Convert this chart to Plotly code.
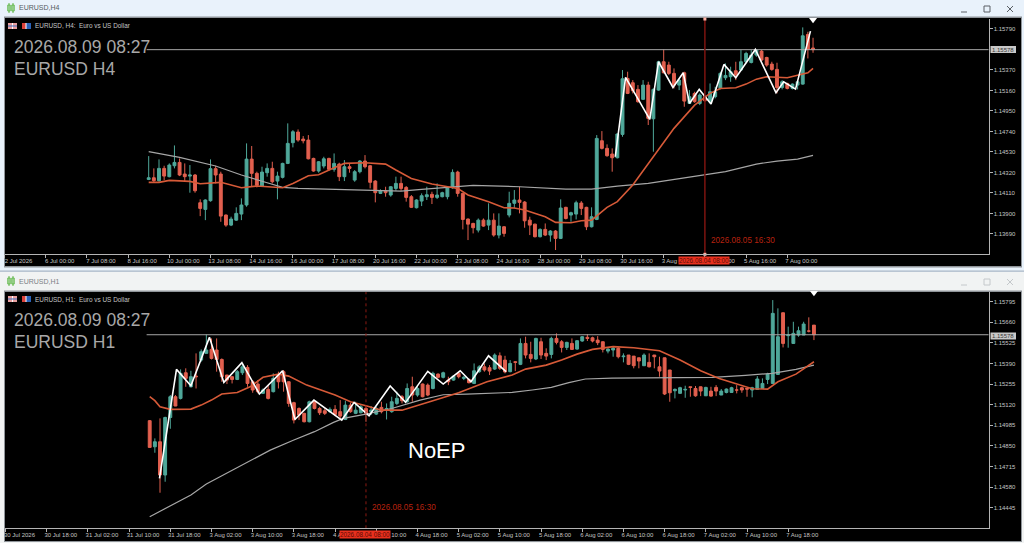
import plotly.graph_objects as go

# ---- H4 chart values ----
h4_open = [1.14249,1.14266,1.14236,1.14362,1.14277,1.14389,1.14423,1.14304,1.14283,1.14294,
           1.14010,1.13942,1.14031,1.14359,1.14304,1.13884,1.13781,1.13832,1.13894,1.13987,
           1.14457,1.14311,1.14181,1.14318,1.14362,1.14232,1.14270,1.14413,1.14625,1.14734,
           1.14662,1.14652,1.14464,1.14335,1.14386,1.14464,1.14352,1.14406,1.14277,1.14379,
           1.14242,1.14328,1.14437,1.14389,1.14232,1.14106,1.14133,1.14089,1.14157,1.14208,
           1.14167,1.14072,1.13959,1.14027,1.14072,1.14096,1.14065,1.14072,1.14072,1.14164,
           1.14324,1.14106,1.13843,1.13798,1.13730,1.13832,1.13781,1.13832,1.13679,1.13764,
           1.13884,1.14004,1.14038,1.14017,1.13832,1.13791,1.13662,1.13737,1.13679,1.13720,
           1.13645,1.13963,1.13884,1.13894,1.14007,1.13963,1.13764,1.13839,1.14645,1.14567,
           1.14509,1.14471,1.14710,1.15283,1.15239,1.15171,1.15069,1.15215,1.14870,1.15164,
           1.15454,1.15420,1.15335,1.15215,1.15341,1.15027,1.15130,1.15027,1.15096,1.15045,
           1.15096,1.15181,1.15290,1.15301,1.15362,1.15369,1.15454,1.15447,1.15522,1.15563,
           1.15498,1.15430,1.15376,1.15191,1.15232,1.15181,1.15215,1.15225,1.15734,1.15595]
h4_high = [1.14488,1.14362,1.14454,1.14389,1.14413,1.14597,1.14464,1.14413,1.14396,1.14304,
           1.14045,1.14045,1.14454,1.14389,1.14328,1.13890,1.13867,1.13963,1.14055,1.14618,
           1.14591,1.14328,1.14379,1.14413,1.14430,1.14328,1.14420,1.14823,1.14754,1.14761,
           1.14693,1.14703,1.14471,1.14437,1.14481,1.14471,1.14515,1.14420,1.14447,1.14413,
           1.14345,1.14447,1.14498,1.14396,1.14242,1.14147,1.14174,1.14181,1.14277,1.14277,
           1.14181,1.14089,1.14045,1.14106,1.14174,1.14123,1.14208,1.14123,1.14174,1.14352,
           1.14338,1.14113,1.13849,1.13805,1.13849,1.13849,1.14004,1.13901,1.13901,1.13771,
           1.14123,1.14140,1.14174,1.14027,1.13867,1.13795,1.13748,1.13798,1.13730,1.13730,
           1.14045,1.13969,1.13918,1.14031,1.14027,1.13969,1.13963,1.14703,1.14744,1.14608,
           1.14567,1.14720,1.15369,1.15352,1.15266,1.15215,1.15266,1.15249,1.15181,1.15464,
           1.15580,1.15454,1.15386,1.15283,1.15352,1.15164,1.15147,1.15130,1.15113,1.15232,
           1.15198,1.15352,1.15437,1.15403,1.15454,1.15574,1.15556,1.15574,1.15580,1.15574,
           1.15505,1.15454,1.15444,1.15266,1.15239,1.15232,1.15266,1.15806,1.15761,1.15700]
h4_low = [1.14242,1.14215,1.14225,1.14242,1.14270,1.14362,1.14283,1.14225,1.14113,1.14113,
          1.13873,1.13832,1.14021,1.14208,1.13815,1.13764,1.13771,1.13825,1.13832,1.13969,
          1.14181,1.14167,1.14174,1.14277,1.14208,1.14045,1.14259,1.14406,1.14577,1.14635,
          1.14618,1.14454,1.14328,1.14318,1.14362,1.14338,1.14328,1.14232,1.14232,1.14318,
          1.14225,1.14311,1.14362,1.14157,1.14014,1.14099,1.14072,1.14072,1.14133,1.14133,
          1.14021,1.13956,1.13952,1.13976,1.14038,1.13997,1.14048,1.14065,1.14045,1.14154,
          1.14072,1.13737,1.13628,1.13696,1.13706,1.13764,1.13730,1.13662,1.13645,1.13662,
          1.13860,1.13952,1.13901,1.13754,1.13679,1.13655,1.13655,1.13669,1.13611,1.13526,
          1.13638,1.13839,1.13815,1.13839,1.13884,1.13730,1.13757,1.13832,1.14556,1.14481,
          1.14328,1.14464,1.14686,1.15123,1.15130,1.15034,1.15062,1.14806,1.14533,1.15157,
          1.15335,1.15318,1.15181,1.15164,1.14993,1.15021,1.15034,1.15010,1.15045,1.15027,
          1.15079,1.15171,1.15266,1.15249,1.15266,1.15362,1.15437,1.15437,1.15505,1.15464,
          1.15403,1.15362,1.15130,1.15171,1.15171,1.15171,1.15171,1.15219,1.15488,1.15546]
h4_close = [1.14266,1.14236,1.14362,1.14283,1.14396,1.14423,1.14294,1.14277,1.14294,1.14133,
            1.13952,1.14038,1.14359,1.14294,1.13873,1.13781,1.13843,1.13901,1.13987,1.14457,
            1.14311,1.14188,1.14324,1.14362,1.14225,1.14283,1.14413,1.14618,1.14737,1.14652,
            1.14645,1.14460,1.14335,1.14430,1.14460,1.14352,1.14413,1.14277,1.14379,1.14362,
            1.14328,1.14437,1.14379,1.14219,1.14113,1.14133,1.14113,1.14174,1.14208,1.14157,
            1.14065,1.13963,1.14038,1.14082,1.14092,1.14065,1.14089,1.14113,1.14164,1.14321,
            1.14106,1.13839,1.13791,1.13754,1.13832,1.13771,1.13832,1.13679,1.13771,1.13696,
            1.14004,1.14038,1.14014,1.13825,1.13781,1.13662,1.13737,1.13679,1.13720,1.13645,
            1.13956,1.13849,1.13908,1.14010,1.13952,1.13764,1.13867,1.14669,1.14567,1.14492,
            1.14471,1.14714,1.15280,1.15130,1.15157,1.15045,1.15215,1.14874,1.15171,1.15454,
            1.15341,1.15335,1.15215,1.15266,1.15051,1.15096,1.15045,1.15113,1.15055,1.15147,
            1.15147,1.15335,1.15314,1.15352,1.15318,1.15454,1.15539,1.15522,1.15574,1.15471,
            1.15420,1.15376,1.15191,1.15249,1.15181,1.15225,1.15249,1.15720,1.15580,1.15578]

# moving averages and zigzag of the H4 chart, as (bar number, price)
h4_red_bar = [0,2,4,8,10,14,18,21,26,28,31,33,36,38,42,46,48,51,55,60,62,66,69,71,73,77,79,82,84,86,89,91,94,98,102,106,109,111,114,116,118,120,124,128,129]
h4_red_val = [1.14219,1.14219,1.14239,1.14229,1.14205,1.14219,1.14164,1.14181,1.14164,1.14208,1.14287,1.14297,1.14369,1.14413,1.14420,1.14406,1.14345,1.14259,1.14202,1.14157,1.14089,1.14021,1.13959,1.13956,1.13935,1.13867,1.13809,1.13805,1.13825,1.13832,1.13963,1.14021,1.14191,1.14481,1.14772,1.15010,1.15130,1.15181,1.15188,1.15225,1.15276,1.15301,1.15290,1.15341,1.15386]
h4_gray_bar = [0,6,13,18,23,26,29,36,42,49,53,59,63,72,77,81,86,91,97,102,108,112,118,122,126,129]
h4_gray_val = [1.14533,1.14475,1.14386,1.14294,1.14215,1.14167,1.14157,1.14147,1.14133,1.14130,1.14147,1.14174,1.14188,1.14174,1.14164,1.14150,1.14150,1.14181,1.14208,1.14249,1.14297,1.14328,1.14406,1.14437,1.14457,1.14495]
h4_zz_bar = [90.6,92.6,97.3,99.0,101.8,103.8,105.0,106.9,109.2,111.7,114.0,117.8,121.8,123.3,125.6,128.5]
h4_zz_val = [1.14481,1.15294,1.14864,1.15454,1.15191,1.15341,1.15027,1.15171,1.15021,1.15427,1.15290,1.15580,1.15137,1.15249,1.15174,1.15768]

# ---- H1 chart values ----
h1_open = [1.15015,1.14844,1.14877,1.14659,1.15036,1.15172,1.15161,1.15329,1.15237,1.15307,
           1.15412,1.15456,1.15482,1.15478,1.15416,1.15314,1.15303,1.15285,1.15329,1.15364,
           1.15270,1.15255,1.15194,1.15220,1.15205,1.15314,1.15336,1.15270,1.15133,1.15095,
           1.15063,1.15008,1.15139,1.15095,1.15080,1.15074,1.15089,1.15074,1.15023,1.15117,
           1.15063,1.15067,1.15095,1.15074,1.15058,1.15102,1.15084,1.15074,1.15128,1.15172,
           1.15139,1.15237,1.15183,1.15255,1.15248,1.15226,1.15320,1.15299,1.15281,1.15281,
           1.15325,1.15292,1.15285,1.15259,1.15336,1.15368,1.15362,1.15353,1.15440,1.15412,
           1.15336,1.15401,1.15384,1.15521,1.15449,1.15419,1.15532,1.15456,1.15449,1.15554,
           1.15532,1.15495,1.15521,1.15484,1.15537,1.15561,1.15558,1.15543,1.15532,1.15471,
           1.15478,1.15489,1.15434,1.15445,1.15438,1.15427,1.15375,1.15397,1.15445,1.15368,
           1.15427,1.15347,1.15211,1.15194,1.15216,1.15237,1.15226,1.15237,1.15178,1.15209,
           1.15233,1.15183,1.15200,1.15200,1.15216,1.15231,1.15226,1.15216,1.15220,1.15226,
           1.15285,1.15259,1.15318,1.15722,1.15572,1.15521,1.15576,1.15576,1.15602,1.15641]
h1_high = [1.15019,1.14899,1.15030,1.15041,1.15183,1.15183,1.15351,1.15358,1.15342,1.15456,
           1.15482,1.15580,1.15554,1.15554,1.15423,1.15316,1.15307,1.15347,1.15390,1.15379,
           1.15281,1.15281,1.15226,1.15248,1.15325,1.15336,1.15347,1.15272,1.15139,1.15102,
           1.15067,1.15146,1.15150,1.15106,1.15095,1.15102,1.15117,1.15150,1.15146,1.15133,
           1.15139,1.15117,1.15117,1.15111,1.15106,1.15139,1.15128,1.15172,1.15205,1.15183,
           1.15259,1.15303,1.15248,1.15259,1.15259,1.15336,1.15325,1.15336,1.15303,1.15314,
           1.15336,1.15307,1.15292,1.15390,1.15379,1.15390,1.15379,1.15456,1.15462,1.15440,
           1.15412,1.15406,1.15554,1.15565,1.15532,1.15558,1.15558,1.15489,1.15565,1.15587,
           1.15543,1.15532,1.15554,1.15543,1.15569,1.15582,1.15565,1.15569,1.15534,1.15489,
           1.15500,1.15500,1.15456,1.15445,1.15434,1.15412,1.15456,1.15456,1.15445,1.15434,
           1.15349,1.15220,1.15226,1.15237,1.15244,1.15237,1.15242,1.15216,1.15237,1.15237,
           1.15248,1.15222,1.15226,1.15237,1.15248,1.15237,1.15226,1.15237,1.15307,1.15292,
           1.15329,1.15805,1.15751,1.15631,1.15631,1.15663,1.15631,1.15663,1.15692,1.15613]
h1_low = [1.14838,1.14805,1.14543,1.14615,1.14962,1.15110,1.15154,1.15237,1.15233,1.15226,
          1.15401,1.15455,1.15416,1.15336,1.15270,1.15255,1.15259,1.15281,1.15314,1.15237,
          1.15198,1.15194,1.15190,1.15154,1.15200,1.15226,1.15205,1.15106,1.14997,1.15019,
          1.15004,1.15004,1.15089,1.15052,1.15052,1.15067,1.15045,1.15019,1.15019,1.15067,
          1.15058,1.15063,1.15008,1.15052,1.15052,1.15063,1.15023,1.15067,1.15117,1.15128,
          1.15133,1.15139,1.15172,1.15168,1.15176,1.15220,1.15292,1.15292,1.15248,1.15277,
          1.15292,1.15281,1.15259,1.15255,1.15329,1.15336,1.15314,1.15347,1.15347,1.15325,
          1.15332,1.15340,1.15379,1.15423,1.15397,1.15412,1.15419,1.15412,1.15423,1.15515,
          1.15462,1.15478,1.15478,1.15480,1.15532,1.15537,1.15528,1.15510,1.15462,1.15456,
          1.15434,1.15423,1.15397,1.15379,1.15358,1.15358,1.15390,1.15364,1.15358,1.15303,
          1.15183,1.15139,1.15161,1.15198,1.15165,1.15172,1.15172,1.15176,1.15205,1.15172,
          1.15176,1.15194,1.15194,1.15211,1.15194,1.15198,1.15172,1.15168,1.15222,1.15248,
          1.15255,1.15303,1.15558,1.15495,1.15493,1.15569,1.15565,1.15593,1.15593,1.15543]
h1_close = [1.14840,1.14877,1.14659,1.15036,1.15172,1.15111,1.15325,1.15292,1.15303,1.15303,
            1.15467,1.15478,1.15423,1.15416,1.15303,1.15281,1.15285,1.15336,1.15368,1.15259,
            1.15216,1.15205,1.15216,1.15161,1.15292,1.15270,1.15270,1.15128,1.15019,1.15052,
            1.15008,1.15139,1.15095,1.15067,1.15063,1.15089,1.15056,1.15045,1.15117,1.15074,
            1.15084,1.15106,1.15063,1.15084,1.15095,1.15074,1.15095,1.15139,1.15161,1.15146,
            1.15226,1.15183,1.15226,1.15172,1.15183,1.15325,1.15299,1.15329,1.15270,1.15307,
            1.15303,1.15299,1.15264,1.15342,1.15368,1.15347,1.15340,1.15445,1.15358,1.15334,
            1.15390,1.15397,1.15521,1.15445,1.15423,1.15554,1.15445,1.15438,1.15554,1.15528,
            1.15495,1.15528,1.15482,1.15539,1.15565,1.15554,1.15537,1.15526,1.15482,1.15484,
            1.15489,1.15434,1.15438,1.15384,1.15375,1.15406,1.15445,1.15368,1.15434,1.15340,
            1.15190,1.15198,1.15220,1.15231,1.15220,1.15233,1.15178,1.15209,1.15233,1.15176,
            1.15209,1.15209,1.15222,1.15231,1.15216,1.15216,1.15222,1.15231,1.15288,1.15259,
            1.15320,1.15718,1.15565,1.15521,1.15576,1.15587,1.15604,1.15648,1.15602,1.15578]

h1_red_bar = [0,1,2,4,8,10,12,14,17,19.5,22,25,27,30.5,36,39,42,45,49,52,55,60,65.5,70.4,73,77,80,83,86,90,94,99,103,107,110.6,117,120,122,125.5,129]
h1_red_val = [1.15172,1.15146,1.15106,1.15089,1.15091,1.15117,1.15150,1.15190,1.15200,1.15237,1.15299,1.15320,1.15307,1.15248,1.15183,1.15139,1.15113,1.15084,1.15084,1.15117,1.15146,1.15198,1.15270,1.15314,1.15353,1.15379,1.15412,1.15451,1.15482,1.15500,1.15493,1.15473,1.15412,1.15342,1.15292,1.15224,1.15222,1.15270,1.15320,1.15401]
h1_gray_bar = [0,4,8,11,15,19,23.4,28,32,35.7,37.6,42,47,52.5,57,61.6,70.4,74.3,78,81.4,84.6,89.8,95,102.8,109.3,115.7,120.9,125.5,129]
h1_gray_val = [1.14386,1.14456,1.14528,1.14600,1.14670,1.14742,1.14822,1.14888,1.14943,1.15004,1.15030,1.15058,1.15095,1.15150,1.15185,1.15189,1.15200,1.15216,1.15233,1.15264,1.15288,1.15294,1.15296,1.15299,1.15299,1.15312,1.15325,1.15351,1.15379]
h1_zz_bar = [1.9,5.2,8,11.6,14.4,17.9,21.3,25.8,28.2,31.9,37.3,39.7,42.6,46.7,49.7,54,57,60.3,62.4,65.8,69.2]
h1_zz_val = [1.14637,1.15351,1.15244,1.15561,1.15266,1.15395,1.15190,1.15342,1.15023,1.15150,1.15019,1.15135,1.15047,1.15242,1.15135,1.15338,1.15255,1.15342,1.15270,1.15440,1.15336]

h4_ticks = [1.15790,1.15370,1.15160,1.14950,1.14740,1.14530,1.14320,1.14110,1.13900,1.13690]
h1_ticks = [1.15795,1.15660,1.15525,1.15390,1.15255,1.15120,1.14985,1.14850,1.14715,1.14580,1.14445]
time_tick_bars = [-28,-20,-12,-4,4,12,20,28,36,44,52,60,68,76,84,92,100,108,116,124]
h4_time_labels = ["2 Jul 2026","6 Jul 00:00","7 Jul 08:00","8 Jul 16:00","10 Jul 00:00","13 Jul 08:00",
                  "14 Jul 16:00","16 Jul 00:00","17 Jul 08:00","20 Jul 16:00","22 Jul 00:00","23 Jul 08:00",
                  "24 Jul 16:00","28 Jul 00:00","29 Jul 08:00","30 Jul 16:00","3 Aug 00:00","4 Aug 08:00",
                  "5 Aug 16:00","7 Aug 00:00"]
h1_time_labels = ["30 Jul 2026","30 Jul 18:00","31 Jul 02:00","31 Jul 10:00","31 Jul 18:00","3 Aug 02:00",
                  "3 Aug 10:00","3 Aug 18:00","4 Aug 02:00","4 Aug 10:00","4 Aug 18:00","5 Aug 02:00",
                  "5 Aug 10:00","5 Aug 18:00","6 Aug 02:00","6 Aug 10:00","6 Aug 18:00","7 Aug 02:00",
                  "7 Aug 10:00","7 Aug 18:00"]
current_price = 1.15578

GREEN = "#4fa89a"
RED = "#e2604f"
ORANGE = "#d65a38"
GRAY = "#a6a6a6"
AXIS = "#b4b4b4"
LABEL = "#c4c4c4"
FONT = "Liberation Sans"

W, H = 1024, 543


def fx(px):
    return px / W


def fy(px):
    return 1 - px / H


def candles(o, h, l, c, xa, ya):
    return go.Candlestick(
        x=list(range(len(o))), open=o, high=h, low=l, close=c, xaxis=xa, yaxis=ya,
        increasing=dict(line=dict(color=GREEN, width=1), fillcolor=GREEN),
        decreasing=dict(line=dict(color=RED, width=1), fillcolor=RED),
        whiskerwidth=0, showlegend=False, hoverinfo="skip",
    )


def line(x, y, color, width, xa, ya, dash=None):
    return go.Scatter(x=x, y=y, mode="lines", xaxis=xa, yaxis=ya, showlegend=False, hoverinfo="skip",
                      line=dict(color=color, width=width, dash=dash))


h4_range = [1.13482, 1.15892]
h1_range = [1.14310, 1.15858]

fig = go.Figure()

# H4 window
fig.add_trace(candles(h4_open, h4_high, h4_low, h4_close, "x", "y"))
fig.add_trace(line([-0.4, 163.2], [current_price, current_price], GRAY, 1, "x", "y"))
fig.add_trace(line(h4_gray_bar, h4_gray_val, GRAY, 1.2, "x", "y"))
fig.add_trace(line(h4_red_bar, h4_red_val, ORANGE, 1.6, "x", "y"))
fig.add_trace(line(h4_zz_bar, h4_zz_val, "#ffffff", 1.6, "x", "y"))
fig.add_trace(line([108, 108], h4_range, "#7d1410", 1.5, "x", "y"))
fig.add_trace(go.Scatter(x=[108, 108], y=h4_range, mode="markers", cliponaxis=False, showlegend=False,
                         hoverinfo="skip", marker=dict(symbol="square", size=3, color="#ffb3a6")))
fig.add_trace(go.Scatter(x=[129], y=[1.15885], mode="markers", cliponaxis=False, showlegend=False,
                         hoverinfo="skip", marker=dict(symbol="triangle-down", size=7, color="#ffffff")))

# H1 window
fig.add_trace(candles(h1_open, h1_high, h1_low, h1_close, "x2", "y2"))
fig.add_trace(line([-0.6, 163.2], [current_price, current_price], GRAY, 1, "x2", "y2"))
fig.add_trace(line(h1_gray_bar, h1_gray_val, GRAY, 1.2, "x2", "y2"))
fig.add_trace(line(h1_red_bar, h1_red_val, ORANGE, 1.6, "x2", "y2"))
fig.add_trace(line(h1_zz_bar, h1_zz_val, "#ffffff", 1.6, "x2", "y2"))
fig.add_trace(line([42, 42], h1_range, "#8a1a12", 1, "x2", "y2", dash="dot"))
fig.add_trace(go.Scatter(x=[129], y=[1.15853], mode="markers", xaxis="x2", yaxis="y2", cliponaxis=False,
                         showlegend=False, hoverinfo="skip",
                         marker=dict(symbol="triangle-down", size=7, color="#ffffff")))

shapes = []


def rect(x0, y0, x1, y1, fill, layer="below", outline=None):
    shapes.append(dict(type="rect", xref="paper", yref="paper", x0=fx(x0), x1=fx(x1), y0=fy(y1), y1=fy(y0),
                       fillcolor=fill, layer=layer, line=dict(color=outline or fill, width=1 if outline else 0)))


def seg(x0, y0, x1, y1, color, width=1):
    shapes.append(dict(type="line", xref="paper", yref="paper", x0=fx(x0), x1=fx(x1), y0=fy(y0), y1=fy(y1),
                       line=dict(color=color, width=width), layer="above"))


# window frames
rect(0, 0, W, 272, "#e9f2fb")
rect(0, 272, W, H, "#f1f3f3")
rect(4, 16.5, 1022, 267.5, "#8f9499")
rect(5, 18, 1021, 266, "#000000")
rect(0, 270.5, W, 271.8, "#a9b6c4")
rect(4, 290.5, 1022, 542, "#8f9499")
rect(5, 292, 1021, 541, "#000000")


def window_buttons(y, color):
    seg(961, y + 3, 967, y + 3, color)
    rect(984, y - 3, 990, y + 3, "rgba(0,0,0,0)", "above", color)
    seg(1007, y - 3, 1013, y + 3, color)
    seg(1007, y + 3, 1013, y - 3, color)


window_buttons(9, "#5a5f64")
window_buttons(282, "#c4c8cb")


def green_icon(y):
    for x in (9, 13):
        rect(x - 1.2, y - 3, x + 1.2, y + 3, "rgba(0,0,0,0)", "above", "#62b84a")
        seg(x, y - 5, x, y + 5, "#62b84a")


green_icon(8)
green_icon(281)


def chart_icons(y):
    rect(8, y - 3, 17, y + 3, "#e8a0a0")
    seg(12.5, y - 3, 12.5, y + 3, "#ffffff")
    seg(8, y, 17, y, "#3a6fc0")
    rect(22, y - 3, 26, y + 3, "#d9403a")
    rect(26, y - 3, 31, y + 3, "#2a62b8")
    seg(26, y - 3, 26, y + 3, "#ffffff")


chart_icons(26)
chart_icons(299)

# current price tags
rect(990.5, 46, 1016, 53, "#c8c8c8", "above")
rect(990.5, 332.5, 1016, 339.5, "#c8c8c8", "above")

annotations = []


def text(x, y, s, size, color, anchor="left", bg=None, box=None):
    note = dict(xref="paper", yref="paper", x=fx(x), y=fy(y), text=s, showarrow=False, xanchor=anchor,
                yanchor="middle", font=dict(family=FONT, size=size, color=color), bgcolor=bg, borderpad=0)
    if box:
        note["width"], note["height"] = box
    annotations.append(note)


text(18, 8, "EURUSD,H4", 7, "#555a5e")
text(18, 281, "EURUSD,H1", 7, "#7b8085")
text(34, 26, "EURUSD, H4:  Euro vs US Dollar", 6.4, LABEL)
text(34, 299, "EURUSD, H1:  Euro vs US Dollar", 6.4, LABEL)
text(12.5, 47, "2026.08.09 08:27", 17.5, "#a8a8a8")
text(12.5, 69, "EURUSD H4", 17.5, "#a8a8a8")
text(13, 320, "2026.08.09 08:27", 17.5, "#a8a8a8")
text(13, 342, "EURUSD H1", 17.5, "#a8a8a8")
text(407, 450, "NoEP", 22, "#ffffff")
text(710, 240, "2026.08.05 16:30", 8.2, "#b8220f")
text(371, 507.5, "2026.08.05 16:30", 8.2, "#b8220f")
text(704, 260, "2026.08.04 08:00", 6.4, "#5a0c04", "center", "#e8301e", (50, 7))
text(365, 534, "2026.08.04 08:00", 6.4, "#5a0c04", "center", "#e8301e", (50, 7))
text(991, 49.5, "1.15578", 6, "#3a3a3a")
text(991, 336, "1.15578", 6, "#3a3a3a")

x_common = dict(showgrid=False, zeroline=False, showline=True, linecolor=AXIS, linewidth=1, ticks="outside",
                ticklen=3, tickcolor=AXIS, tickfont=dict(family=FONT, size=6, color=LABEL), tickmode="array",
                tickvals=time_tick_bars, ticklabelshift=14, ticklabelstandoff=-3, tickangle=0,
                rangeslider=dict(visible=False))
y_common = dict(showgrid=False, zeroline=False, showline=True, linecolor=AXIS, linewidth=1, ticks="outside",
                ticklen=3, tickcolor=AXIS, side="right", tickmode="array", tickformat=".5f",
                tickfont=dict(family=FONT, size=6, color=LABEL))

fig.update_layout(
    width=W, height=H, autosize=False, margin=dict(l=0, r=0, t=0, b=0), showlegend=False,
    paper_bgcolor="#f1f3f3", plot_bgcolor="#000000", hovermode=False, boxgap=0.2,
    shapes=shapes, annotations=annotations,
    xaxis=dict(domain=[fx(4.5), fx(988.5)], range=[-28, 163.07], anchor="y", ticktext=h4_time_labels, **x_common),
    yaxis=dict(domain=[fy(254.3), fy(19)], range=h4_range, anchor="x", tickvals=h4_ticks, **y_common),
    xaxis2=dict(domain=[fx(4.5), fx(988.5)], range=[-28.2, 162.9], anchor="y2", ticktext=h1_time_labels, **x_common),
    yaxis2=dict(domain=[fy(528.3), fy(292)], range=h1_range, anchor="x2", tickvals=h1_ticks, **y_common),
)

fig.write_html("out.html", config=dict(displayModeBar=False),
               post_script="document.body.style.margin='0';document.body.style.overflow='hidden';")
